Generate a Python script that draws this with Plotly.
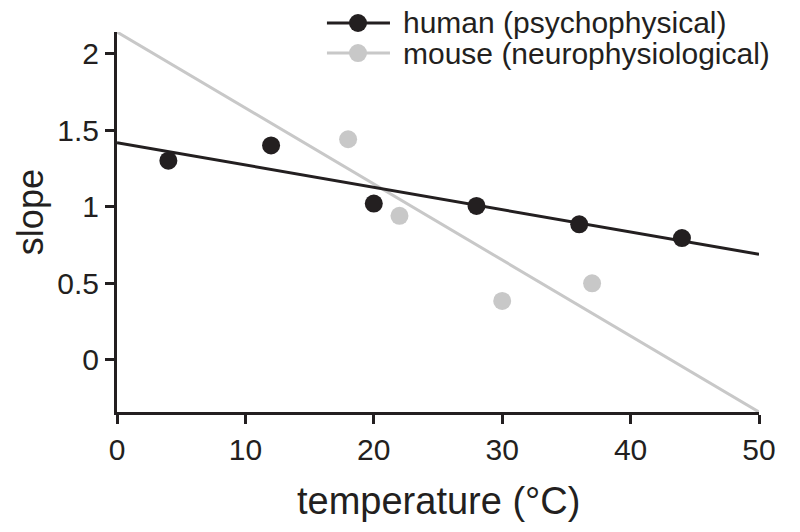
import plotly.graph_objects as go

# data
human_temp = [4, 12, 20, 28, 36, 44]
human_slope = [1.30, 1.40, 1.02, 1.005, 0.885, 0.795]
mouse_temp = [18, 22, 30, 37]
mouse_slope = [1.44, 0.94, 0.385, 0.50]
fit_temp = [0, 50]
human_fit = [1.418, 0.689]
mouse_fit = [2.14, -0.34]
x_ticks = [0, 10, 20, 30, 40, 50]
y_ticks = [0, 0.5, 1, 1.5, 2]
labels = ["human (psychophysical)", "mouse (neurophysiological)"]

DARK = "#231f20"
GREY = "#c8c8c8"
FONT = "Liberation Sans, Arial, Helvetica, sans-serif"

fig = go.Figure()
fig.add_trace(go.Scatter(x=fit_temp, y=mouse_fit, mode="lines",
                         line=dict(color=GREY, width=3), showlegend=False, cliponaxis=False))
fig.add_trace(go.Scatter(x=fit_temp, y=human_fit, mode="lines",
                         line=dict(color=DARK, width=3), showlegend=False, cliponaxis=False))
fig.add_trace(go.Scatter(x=mouse_temp, y=mouse_slope, mode="markers",
                         marker=dict(color=GREY, size=18), showlegend=False))
fig.add_trace(go.Scatter(x=human_temp, y=human_slope, mode="markers",
                         marker=dict(color=DARK, size=18), showlegend=False))

# custom legend (paper coords of a 800x532 figure, plot area 117..759 x 32..412)
rows = [(1.0237, DARK, labels[0]), (0.9447, GREY, labels[1])]
for yp, col, txt in rows:
    fig.add_shape(type="line", xref="paper", yref="paper", x0=0.327, x1=0.4252, y0=yp, y1=yp,
                  line=dict(color=col, width=3))
    fig.add_shape(type="circle", xref="paper", yref="paper", xsizemode="pixel", ysizemode="pixel",
                  xanchor=0.3754, yanchor=yp, x0=-9, x1=9, y0=-9, y1=9,
                  fillcolor=col, line=dict(width=0))
    fig.add_annotation(x=0.4439, y=yp, xref="paper", yref="paper", text=txt, showarrow=False,
                       xanchor="left", yanchor="middle", borderpad=0,
                       font=dict(family=FONT, size=30, color=DARK))

fig.add_annotation(x=0.5, y=-0.234, xref="paper", yref="paper", text="temperature (°C)",
                   showarrow=False, xanchor="center", yanchor="middle",
                   font=dict(family=FONT, size=38, color=DARK))
fig.add_annotation(x=-0.1355, y=0.526, xref="paper", yref="paper", text="slope", textangle=-90,
                   showarrow=False, xanchor="center", yanchor="middle",
                   font=dict(family=FONT, size=36, color=DARK))

fig.update_xaxes(range=[0, 50], tickvals=x_ticks, showgrid=False, zeroline=False,
                 showline=True, linecolor=DARK, linewidth=3, ticks="outside", ticklen=9,
                 tickwidth=3, tickcolor=DARK, tickfont=dict(family=FONT, size=30, color=DARK))
fig.update_yaxes(range=[-0.34, 2.14], tickvals=y_ticks, showgrid=False, zeroline=False,
                 showline=True, linecolor=DARK, linewidth=3, ticks="outside", ticklen=9,
                 tickwidth=3, tickcolor=DARK, tickfont=dict(family=FONT, size=30, color=DARK))

fig.update_layout(width=800, height=532, margin=dict(l=117, r=41, t=32, b=120),
                  plot_bgcolor="white", paper_bgcolor="white", showlegend=False)

# remove the browser's default 8px body margin so the figure fills the window
fig.write_html("out.html", config={"displayModeBar": False},
               post_script="document.body.style.margin='0';")
